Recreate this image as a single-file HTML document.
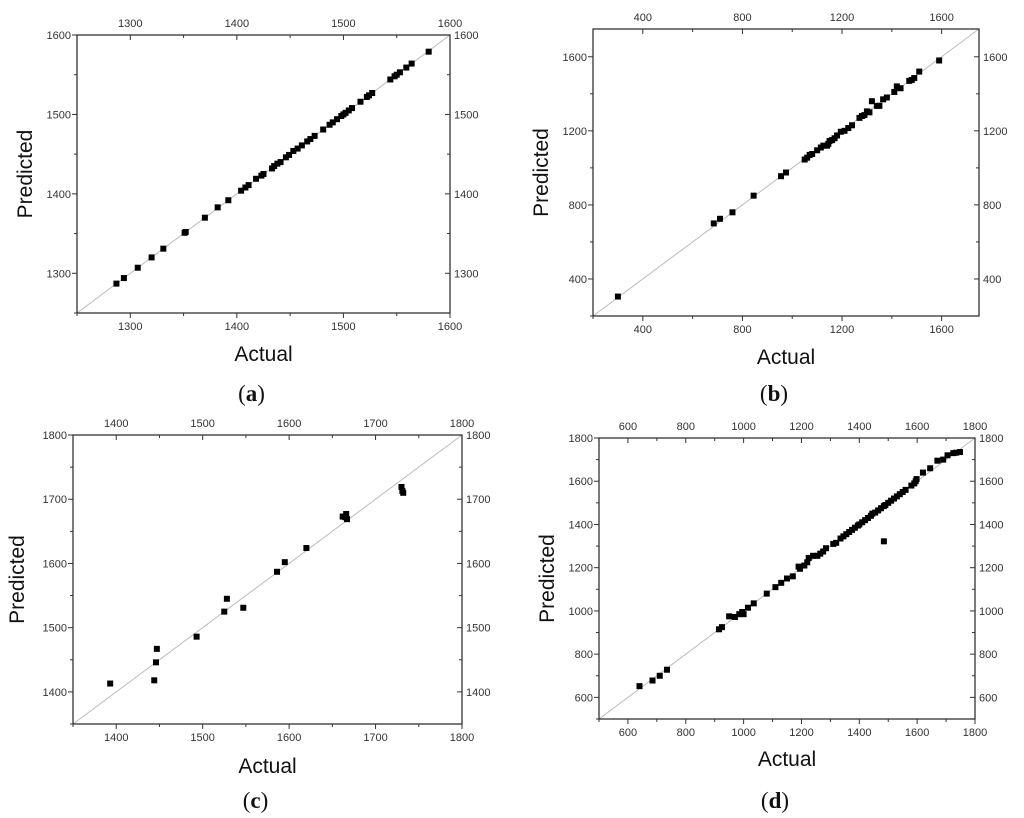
<!DOCTYPE html>
<html><head><meta charset="utf-8">
<style>
html,body{margin:0;padding:0;background:#fff;}
svg{display:block;}
.tk{font-family:"Liberation Sans",sans-serif;font-size:11px;fill:#333;}
.at{font-family:"Liberation Sans",sans-serif;font-size:21px;fill:#111;}
.pl{font-family:"Liberation Serif",serif;font-size:23px;fill:#111;}
</style></head>
<body>
<svg id="fig" width="1024" height="818" viewBox="0 0 1024 818" xmlns="http://www.w3.org/2000/svg"></svg>
<script>
// Panel (a)
const aActual=[1287,1294,1307,1320,1331,1351,1352,1370,1382,1392,1404,1408,1411,1418,1423,1425,1433,1435,1438,1441,1446,1449,1453,1457,1461,1466,1469,1473,1481,1487,1490,1494,1498,1500,1502,1505,1508,1516,1522,1524,1527,1544,1548,1550,1553,1559,1564,1580];
const aPred=[1287,1294,1307,1320,1331,1351,1352,1370,1383,1392,1404,1408,1411,1419,1423,1425,1432,1435,1438,1440,1446,1449,1454,1457,1461,1466,1469,1473,1481,1487,1490,1494,1498,1500,1502,1505,1508,1516,1522,1524,1527,1544,1548,1550,1553,1559,1564,1579];
const aTicks=[1300,1400,1500,1600];
// Panel (b)
const bActual=[300,685,710,760,845,955,975,1050,1060,1070,1080,1100,1115,1125,1140,1145,1150,1160,1170,1180,1195,1210,1225,1240,1270,1280,1290,1300,1310,1320,1340,1350,1365,1380,1410,1420,1435,1470,1480,1490,1510,1590];
const bPred=[305,700,725,760,850,955,975,1045,1055,1070,1075,1095,1110,1120,1120,1130,1145,1150,1160,1175,1195,1200,1215,1230,1270,1280,1285,1305,1300,1360,1335,1335,1370,1380,1410,1440,1430,1470,1475,1485,1520,1580];
const bTicks=[400,800,1200,1600];
// Panel (c)
const cActual=[1393,1444,1446,1447,1493,1525,1528,1547,1586,1595,1620,1662,1665,1666,1667,1730,1731,1732];
const cPred=[1413,1418,1446,1467,1486,1525,1545,1531,1587,1602,1624,1673,1672,1677,1669,1719,1713,1710];
const cTicks=[1400,1500,1600,1700,1800];
// Panel (d)
const dActual=[640,685,710,735,915,925,950,970,985,995,1000,1015,1035,1080,1110,1130,1150,1170,1190,1195,1210,1220,1225,1240,1255,1265,1275,1285,1310,1320,1335,1345,1355,1365,1375,1385,1395,1400,1410,1420,1430,1440,1445,1455,1465,1475,1485,1490,1500,1510,1520,1530,1540,1550,1560,1580,1590,1595,1598,1485,1620,1645,1670,1690,1705,1725,1735,1748];
const dPred=[652,678,700,728,915,925,975,972,985,995,985,1015,1035,1080,1110,1130,1150,1160,1205,1195,1210,1225,1245,1255,1255,1265,1275,1290,1310,1315,1335,1345,1355,1365,1375,1385,1395,1400,1410,1420,1430,1440,1450,1455,1465,1475,1485,1490,1500,1510,1520,1530,1540,1550,1560,1580,1590,1600,1610,1322,1640,1660,1695,1700,1720,1730,1732,1735];
const dTicks=[600,800,1000,1200,1400,1600,1800];

const NS="http://www.w3.org/2000/svg";
const svg=document.getElementById('fig');
function mk(tag,attrs,parent){const e=document.createElementNS(NS,tag);for(const k in attrs)e.setAttribute(k,attrs[k]);(parent||svg).appendChild(e);return e;}

function panel(id,box,lo,hi,minor,ticks,xs,ys,label,ytX,atY,plY){
  const g=mk('g',{});
  
  
  const [L,T,R,B]=box;
  const sx=v=>L+(v-lo)/(hi-lo)*(R-L);
  const sy=v=>B-(v-lo)/(hi-lo)*(B-T);
  const diag=mk('line',{x1:sx(lo),y1:sy(lo),x2:sx(hi),y2:sy(hi),stroke:'#bbb','stroke-width':1},g);
  
  
  const fr=mk('rect',{x:L,y:T,width:R-L,height:B-T,fill:'none',stroke:'#333','stroke-width':1.3},g);
  
  
  for(let v=Math.ceil(lo/minor)*minor;v<=hi+0.01;v+=minor){
    const major=ticks.includes(v);const len=major?5:3;
    mk('line',{x1:sx(v),y1:B,x2:sx(v),y2:B+len,stroke:'#333'},g);
    mk('line',{x1:sx(v),y1:T,x2:sx(v),y2:T+len,stroke:'#333'},g);
    mk('line',{x1:L,y1:sy(v),x2:L-len,y2:sy(v),stroke:'#333'},g);
    mk('line',{x1:R,y1:sy(v),x2:R-len,y2:sy(v),stroke:'#333'},g);
  }
  ticks.forEach(v=>{
    if(v<lo||v>hi)return;
    const t1=mk('text',{x:sx(v),y:B+17,'text-anchor':'middle',class:'tk'},g);t1.textContent=v;
    
    
    const t2=mk('text',{x:sx(v),y:T-8,'text-anchor':'middle',class:'tk'},g);t2.textContent=v;
    
    
    const t3=mk('text',{x:L-6,y:sy(v)+4,'text-anchor':'end',class:'tk'},g);t3.textContent=v;
    
    
    const t4=mk('text',{x:R+4,y:sy(v)+4,'text-anchor':'start',class:'tk'},g);t4.textContent=v;
    
    
  });
  xs.forEach((x,i)=>{
    const p=mk('rect',{x:sx(x)-3,y:sy(ys[i])-3,width:6,height:6,fill:'#000'},g);
    
    
  });
  const yt=mk('text',{x:ytX,y:(T+B)/2,'text-anchor':'middle',class:'at',transform:`rotate(-90 ${ytX} ${(T+B)/2})`},g);
  yt.textContent='Predicted';
  
  
  const xt=mk('text',{x:(L+R)/2,y:atY,'text-anchor':'middle',class:'at'},g);
  xt.textContent='Actual';
  
  
  const pl=mk('text',{x:(L+R)/2-12,y:plY,'text-anchor':'middle',class:'pl'},g);
  pl.innerHTML='(<tspan font-weight="bold">'+label+'</tspan>)';
  
  
}
panel('a',[77,35,450,313],1250,1600,50,aTicks,aActual,aPred,'a',32,361,401);
panel('b',[593,29,979,316],200,1750,200,bTicks,bActual,bPred,'b',548,364,401);
panel('c',[73,435,462,724],1350,1800,50,cTicks,cActual,cPred,'c',24,773,808);
panel('d',[599,438,975,719],500,1800,100,dTicks,dActual,dPred,'d',554,766,808);
</script>
</body></html>
